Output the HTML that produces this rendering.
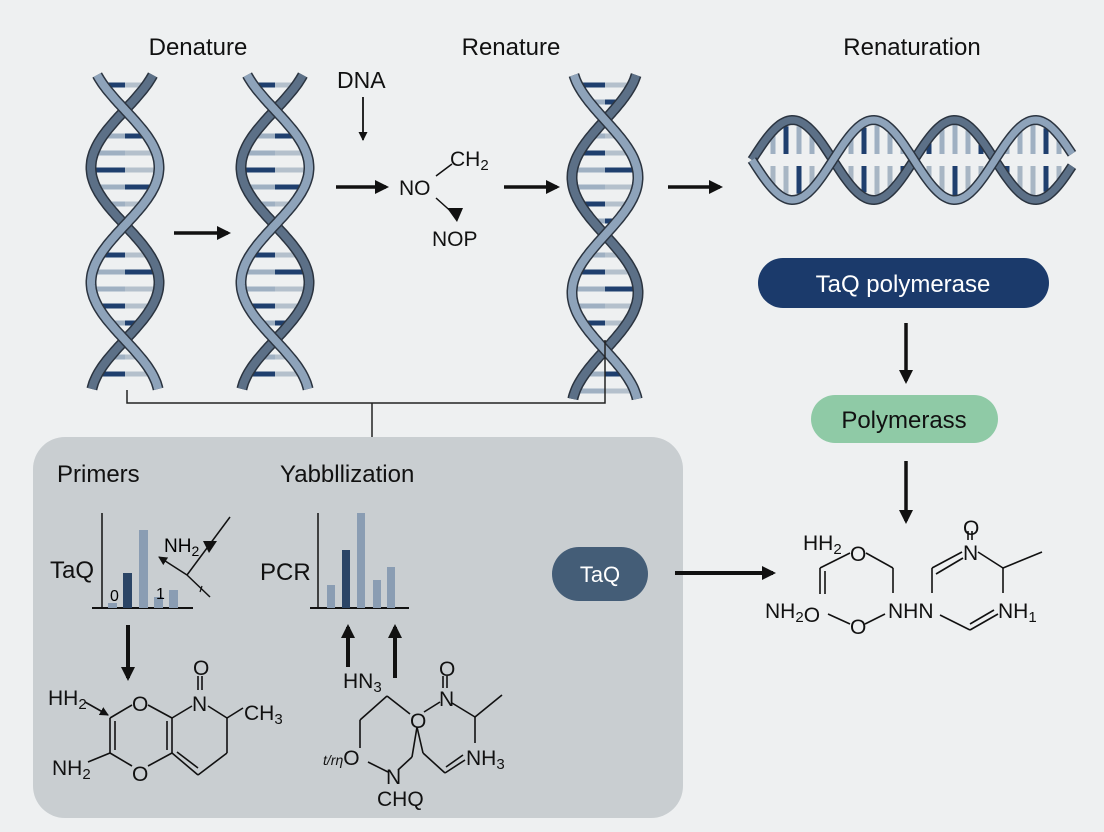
<!DOCTYPE html>
<html><head><meta charset="utf-8"><style>
html,body{margin:0;padding:0;background:#eef0f1;}
svg{display:block;font-family:"Liberation Sans",sans-serif;}
</style></head><body>
<svg id="s" width="1104" height="832" viewBox="0 0 1104 832" xmlns="http://www.w3.org/2000/svg">
<defs>
<marker id="ah" markerWidth="14" markerHeight="14" refX="11" refY="7" orient="auto" markerUnits="userSpaceOnUse" viewBox="0 0 14 14"><path d="M0,0 L14,7 L0,14 z" fill="#111"/></marker>
<marker id="ahs" markerWidth="9" markerHeight="9" refX="8" refY="4.5" orient="auto" markerUnits="userSpaceOnUse" viewBox="0 0 9 9"><path d="M0,0 L9,4.5 L0,9 z" fill="#111"/></marker>
</defs>
<rect width="1104" height="832" fill="#eef0f1"/>
<g id="helices"></g>
<g font-size="24" fill="#111" text-anchor="middle">
<text x="198" y="55">Denature</text>
<text x="511" y="55">Renature</text>
<text x="912" y="55">Renaturation</text>
</g>
<g fill="#111">
<text x="337" y="88" font-size="23">DNA</text>
<line x1="363" y1="97" x2="363" y2="140" stroke="#111" stroke-width="1.8" marker-end="url(#ahs)"/>
<line x1="336" y1="187" x2="386" y2="187" stroke="#111" stroke-width="3.5" marker-end="url(#ah)"/>
<text x="399" y="195" font-size="21">NO</text>
<line x1="436" y1="176" x2="452" y2="164" stroke="#111" stroke-width="1.5"/>
<text x="450" y="166" font-size="21">CH<tspan font-size="15" dy="4">2</tspan></text>
<line x1="436" y1="198" x2="455" y2="215" stroke="#111" stroke-width="1.5"/>
<path d="M447,208 L463,208 L457,222 z" fill="#111"/>
<text x="432" y="246" font-size="21">NOP</text>
<line x1="504" y1="187" x2="557" y2="187" stroke="#111" stroke-width="3.5" marker-end="url(#ah)"/>
<line x1="174" y1="233" x2="228" y2="233" stroke="#111" stroke-width="3.5" marker-end="url(#ah)"/>
<line x1="668" y1="187" x2="720" y2="187" stroke="#111" stroke-width="3.5" marker-end="url(#ah)"/>
</g>
<path d="M127,390 V403 H605 V340" fill="none" stroke="#222" stroke-width="1.5"/>
<line x1="372" y1="403" x2="372" y2="438" stroke="#222" stroke-width="1.5"/>
<rect x="33" y="437" width="650" height="381" rx="32" fill="#c9ced1"/>
<g font-size="24" fill="#111">
<text x="57" y="482">Primers</text>
<text x="280" y="482">Yabbllization</text>
<text x="50" y="578">TaQ</text>
<text x="260" y="580">PCR</text>
</g>
<g>
<line x1="102" y1="513" x2="102" y2="608" stroke="#111" stroke-width="1.5"/>
<line x1="92" y1="608" x2="193" y2="608" stroke="#111" stroke-width="2"/>
<rect x="108" y="603" width="9" height="5" fill="#8a9db3"/>
<rect x="123" y="573" width="9" height="35" fill="#2b4566"/>
<rect x="139" y="530" width="9" height="78" fill="#8a9db3"/>
<rect x="154" y="597" width="9" height="11" fill="#8a9db3"/>
<rect x="169" y="590" width="9" height="18" fill="#8a9db3"/>
<text x="110" y="601" font-size="16">0</text>
<text x="156" y="599" font-size="16">1</text>
<text x="164" y="552" font-size="19">NH<tspan font-size="14" dy="4">2</tspan></text>
<line x1="230" y1="517" x2="187" y2="575" stroke="#111" stroke-width="1.5"/>
<path d="M203,541 L217,541 L209,553 z" fill="#111"/>
<line x1="187" y1="575" x2="159" y2="557" stroke="#111" stroke-width="1.5" marker-end="url(#ahs)"/>
<line x1="187" y1="575" x2="210" y2="597" stroke="#111" stroke-width="1.5"/>
<line x1="202" y1="586" x2="200" y2="592" stroke="#111" stroke-width="1.2"/>
<line x1="128" y1="625" x2="128" y2="678" stroke="#111" stroke-width="4" marker-end="url(#ah)"/>
</g>
<g>
<line x1="318" y1="513" x2="318" y2="608" stroke="#111" stroke-width="1.5"/>
<line x1="310" y1="608" x2="409" y2="608" stroke="#111" stroke-width="2"/>
<rect x="327" y="585" width="8" height="23" fill="#8a9db3"/>
<rect x="342" y="550" width="8" height="58" fill="#2b4566"/>
<rect x="357" y="513" width="8" height="95" fill="#8a9db3"/>
<rect x="373" y="580" width="8" height="28" fill="#8a9db3"/>
<rect x="387" y="567" width="8" height="41" fill="#8a9db3"/>
<line x1="348" y1="667" x2="348" y2="627" stroke="#111" stroke-width="4" marker-end="url(#ah)"/>
<line x1="395" y1="678" x2="395" y2="627" stroke="#111" stroke-width="4" marker-end="url(#ah)"/>
</g>
<rect x="552" y="547" width="96" height="54" rx="27" fill="#445d77"/>
<text x="600" y="582" font-size="22" fill="#fff" text-anchor="middle">TaQ</text>
<line x1="675" y1="573" x2="773" y2="573" stroke="#111" stroke-width="4" marker-end="url(#ah)"/>
<rect x="758" y="258" width="291" height="50" rx="25" fill="#1b3a6b"/>
<text x="903" y="292" font-size="24" fill="#fff" text-anchor="middle">TaQ polymerase</text>
<line x1="906" y1="323" x2="906" y2="381" stroke="#111" stroke-width="3.5" marker-end="url(#ah)"/>
<rect x="811" y="395" width="187" height="48" rx="24" fill="#8fcaa6"/>
<text x="904" y="428" font-size="24" fill="#111" text-anchor="middle">Polymerass</text>
<line x1="906" y1="461" x2="906" y2="521" stroke="#111" stroke-width="3.5" marker-end="url(#ah)"/>
<g stroke="#111" stroke-width="1.6" fill="none">
<line x1="85" y1="702" x2="108" y2="715" marker-end="url(#ahs)"/>
<line x1="110" y1="718" x2="132" y2="705"/>
<line x1="148" y1="705" x2="172" y2="718"/>
<line x1="172" y1="718" x2="192" y2="706"/>
<line x1="110" y1="718" x2="110" y2="753"/><line x1="115" y1="721" x2="115" y2="750"/>
<line x1="110" y1="753" x2="132" y2="766"/>
<line x1="88" y1="762" x2="110" y2="753"/>
<line x1="148" y1="766" x2="172" y2="753"/>
<line x1="172" y1="718" x2="172" y2="753"/><line x1="167" y1="721" x2="167" y2="750"/>
<line x1="198" y1="676" x2="198" y2="690"/><line x1="202" y1="676" x2="202" y2="690"/>
<line x1="208" y1="706" x2="227" y2="718"/>
<line x1="227" y1="718" x2="243" y2="708"/>
<line x1="227" y1="718" x2="227" y2="753"/>
<line x1="227" y1="753" x2="198" y2="775"/>
<line x1="172" y1="753" x2="198" y2="775"/><line x1="177" y1="752" x2="198" y2="768"/>
</g>
<g fill="#111" font-size="21">
<text x="48" y="705">HH<tspan font-size="15" dy="4">2</tspan></text>
<text x="132" y="711">O</text>
<text x="192" y="711">N</text>
<text x="193" y="675">O</text>
<text x="244" y="720">CH<tspan font-size="15" dy="4">3</tspan></text>
<text x="52" y="775">NH<tspan font-size="15" dy="4">2</tspan></text>
<text x="132" y="781">O</text>
</g>
<g stroke="#111" stroke-width="1.6" fill="none">
<line x1="360" y1="720" x2="387" y2="696"/>
<line x1="387" y1="696" x2="410" y2="714"/>
<line x1="360" y1="720" x2="360" y2="748"/>
<line x1="368" y1="762" x2="388" y2="772"/>
<line x1="398" y1="770" x2="412" y2="757"/>
<line x1="417" y1="727" x2="412" y2="757"/>
<line x1="417" y1="727" x2="423" y2="753"/>
<line x1="423" y1="753" x2="445" y2="773"/>
<line x1="445" y1="773" x2="465" y2="760"/><line x1="446" y1="767" x2="463" y2="755"/>
<line x1="424" y1="712" x2="440" y2="702"/>
<line x1="443" y1="676" x2="443" y2="688"/><line x1="447" y1="676" x2="447" y2="688"/>
<line x1="452" y1="703" x2="475" y2="717"/>
<line x1="475" y1="717" x2="502" y2="695"/>
<line x1="475" y1="717" x2="475" y2="743"/>
</g>
<g fill="#111" font-size="21">
<text x="343" y="688">HN<tspan font-size="15" dy="4">3</tspan></text>
<text x="439" y="676">O</text>
<text x="439" y="706">N</text>
<text x="410" y="728">O</text>
<text x="323" y="765"><tspan font-size="14" font-style="italic">t/rη</tspan>O</text>
<text x="386" y="784">N</text>
<text x="377" y="806">CHQ</text>
<text x="466" y="765">NH<tspan font-size="15" dy="4">3</tspan></text>
</g>
<g stroke="#111" stroke-width="1.6" fill="none">
<line x1="820" y1="568" x2="850" y2="553"/>
<line x1="866" y1="553" x2="893" y2="568"/>
<line x1="893" y1="568" x2="893" y2="593"/>
<line x1="820" y1="568" x2="820" y2="594"/><line x1="825" y1="571" x2="825" y2="594"/>
<line x1="828" y1="614" x2="850" y2="624"/>
<line x1="865" y1="624" x2="885" y2="614"/>
<line x1="932" y1="593" x2="932" y2="568"/>
<line x1="932" y1="568" x2="962" y2="552"/><line x1="936" y1="574" x2="963" y2="558"/>
<line x1="968" y1="531" x2="968" y2="540"/><line x1="972" y1="531" x2="972" y2="540"/>
<line x1="978" y1="552" x2="1003" y2="568"/>
<line x1="1003" y1="568" x2="1042" y2="552"/>
<line x1="1003" y1="568" x2="1003" y2="593"/>
<line x1="940" y1="615" x2="970" y2="630"/>
<line x1="970" y1="630" x2="998" y2="614"/><line x1="970" y1="624" x2="994" y2="610"/>
</g>
<g fill="#111" font-size="21">
<text x="803" y="550">HH<tspan font-size="15" dy="4">2</tspan></text>
<text x="850" y="561">O</text>
<text x="765" y="618">NH<tspan font-size="15" dy="4">2</tspan>O</text>
<text x="850" y="634">O</text>
<text x="888" y="618">NHN</text>
<text x="963" y="535">O</text>
<text x="963" y="560">N</text>
<text x="998" y="618">NH<tspan font-size="15" dy="4">1</tspan></text>
</g>
</svg>
<script>
(function(){
var NS="http://www.w3.org/2000/svg",g=document.getElementById("helices");
function el(n,a){var e=document.createElementNS(NS,n);for(var k in a)e.setAttribute(k,a[k]);g.appendChild(e);return e;}
function vhelix(cx,A,y0,y1,cross,P){
 var s1=[],s2=[];
 for(var y=y0;y<=y1;y+=2){var t=Math.sin(2*Math.PI*(y-cross)/P);s1.push((cx+A*t).toFixed(1)+","+y);s2.push((cx-A*t).toFixed(1)+","+y);}
 var i=0;
 for(var y=y0+10;y<y1-6;y+=17){var t=Math.sin(2*Math.PI*(y-cross)/P);var a=Math.abs(A*t);if(a<12){continue;}
  var c1=(i%3==0)?"#1f3f6e":"#9fb0c2",c2=(i%3==1)?"#1f3f6e":"#b4c0cc";i++;
  el("line",{x1:cx-a+4,y1:y,x2:cx,y2:y,stroke:c1,"stroke-width":5});
  el("line",{x1:cx,y1:y,x2:cx+a-4,y2:y,stroke:c2,"stroke-width":5});}
 [[s2,"#5c7087"],[s1,"#8ea3ba"]].forEach(function(p){
  el("polyline",{points:p[0].join(" "),fill:"none",stroke:"#2b3440","stroke-width":11,"stroke-linecap":"butt"});
  el("polyline",{points:p[0].join(" "),fill:"none",stroke:p[1],"stroke-width":8});});
}
function hhelix(cy,A,x0,x1,cross,P){
 var s1=[],s2=[];
 for(var x=x0;x<=x1;x+=2){var t=Math.sin(2*Math.PI*(x-cross)/P);s1.push(x+","+(cy+A*t).toFixed(1));s2.push(x+","+(cy-A*t).toFixed(1));}
 var i=0;
 for(var x=x0+8;x<x1-6;x+=13){var t=Math.sin(2*Math.PI*(x-cross)/P);var a=Math.abs(A*t);if(a<14)continue;
  var c=(i%4==1)?"#1f3f6e":"#9fb0c2";i++;
  el("line",{x1:x,y1:cy-a+5,x2:x,y2:cy-6,stroke:c,"stroke-width":5});
  el("line",{x1:x,y1:cy+6,x2:x,y2:cy+a-5,stroke:(i%3==0)?"#1f3f6e":"#a8b6c4","stroke-width":5});}
 [[s2,"#5c7087"],[s1,"#8ea3ba"]].forEach(function(p){
  el("polyline",{points:p[0].join(" "),fill:"none",stroke:"#2b3440","stroke-width":10});
  el("polyline",{points:p[0].join(" "),fill:"none",stroke:p[1],"stroke-width":7});});
}
vhelix(125,34,75,390,110,230);
vhelix(275,34,75,390,110,230);
vhelix(605,33,75,400,120,230);
hhelix(160,40,752,1073,752,162);
})();
</script>
</body></html>
